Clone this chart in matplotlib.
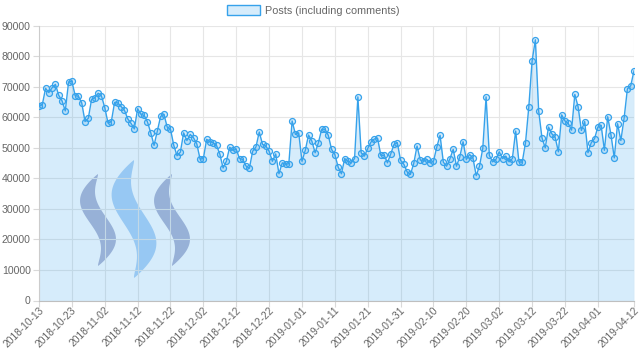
import matplotlib
matplotlib.use("Agg")
import matplotlib.pyplot as plt
import matplotlib.transforms as mtransforms
from matplotlib.patches import Patch, Polygon
import numpy as np

# daily post counts, 2018-10-13 .. 2019-04-12
posts = [63700, 64100, 69500, 68100, 69700, 70800, 67200, 65400, 62100, 71600,
         71800, 67100, 66900, 64700, 58600, 59700, 65900, 66400, 67900, 67000,
         63200, 58100, 58600, 64900, 64700, 63500, 62300, 59500, 58000, 56200,
         62800, 61000, 60600, 58500, 54900, 50800, 55500, 60300, 61000, 56800,
         56100, 50800, 47400, 48600, 54900, 52400, 54400, 53300, 51300, 46300,
         46500, 52800, 52000, 51700, 50800, 48000, 43400, 45600, 50200, 49200,
         49500, 46500, 46200, 44000, 43300, 48900, 50300, 55200, 51100, 50600,
         48900, 45600, 48000, 41500, 45100, 44600, 44800, 58800, 54400, 54900,
         45600, 49200, 54200, 52200, 48400, 51700, 56100, 56100, 54100, 49500,
         47800, 43700, 41500, 46500, 45600, 45100, 46500, 66700, 48400, 47300,
         49800, 51900, 52900, 53100, 47500, 47600, 45100, 48000, 51100, 51700,
         45900, 44600, 42100, 41300, 44900, 50600, 46000, 45600, 46200, 45100,
         45600, 50200, 54100, 45300, 44000, 46400, 49500, 44000, 47000, 52000,
         46200, 47800, 46700, 40900, 44000, 49800, 66700, 47500, 45400, 46200,
         48700, 46500, 47300, 45400, 46500, 55500, 45400, 45300, 51700, 63400,
         78500, 85400, 62100, 53300, 50000, 56800, 54600, 53500, 48700, 60800,
         58800, 58000, 55800, 67500, 63400, 55700, 58600, 48400, 51700, 53000,
         56800, 57400, 49200, 60200, 54200, 46700, 57900, 52400, 59800, 69400,
         70300, 75200]

tick_pos = [0, 10, 20, 30, 40, 50, 60, 70, 80, 90, 100, 110, 120, 130, 140,
            150, 160, 170, 181]
tick_labels = ["2018-10-13", "2018-10-23", "2018-11-02", "2018-11-12",
               "2018-11-22", "2018-12-02", "2018-12-12", "2018-12-22",
               "2019-01-01", "2019-01-11", "2019-01-21", "2019-01-31",
               "2019-02-10", "2019-02-20", "2019-03-02", "2019-03-12",
               "2019-03-22", "2019-04-01", "2019-04-12"]

plt.rcParams["font.family"] = ["Liberation Sans", "DejaVu Sans"]

line_color = "#36a2eb"
fill_color = (54/255, 162/255, 235/255, 0.2)
W, H = 640, 361

fig = plt.figure(figsize=(6.4, 3.61), dpi=100)
ax = fig.add_axes([39/W, 1 - 300.5/H, (634 - 39)/W, (300.5 - 25.7)/H])


# steem-like watermark, drawn in figure pixels
def swoosh(xc, amp, ytop, ybot, wmax, color):
    t = np.linspace(0, 1, 80)
    cx = xc - amp * np.sin(2 * np.pi * t)
    cy = ytop + t * (ybot - ytop)
    w = wmax / 2 * np.sin(np.pi * t) ** 0.8
    xs = np.concatenate([cx - w, (cx + w)[::-1]])
    ys = np.concatenate([cy, cy[::-1]])
    pts = np.column_stack([xs / W, 1 - ys / H])
    ax.add_patch(Polygon(pts, closed=True, transform=fig.transFigure,
                         facecolor=color, edgecolor="none", zorder=0.5))


swoosh(98, 10, 174, 266, 20, "#b0b5d3")
swoosh(134, 12, 160, 278, 26, "#b0d2f5")
swoosh(172, 10, 174, 266, 20, "#b0b5d3")

x = np.arange(len(posts))
ax.fill_between(x, posts, 0, color=fill_color, linewidth=0, zorder=1)
ax.plot(x, posts, color=line_color, linewidth=1, marker="o", markersize=4.3,
        markerfacecolor=(54/255, 162/255, 235/255, 0.2),
        markeredgecolor=line_color, markeredgewidth=0.9, zorder=3,
        label="Posts (including comments)")

ax.set_xlim(0, len(posts) - 1)
ax.set_ylim(0, 90000)
ax.set_yticks(np.arange(0, 90001, 10000))
ax.set_xticks(tick_pos)
ax.set_xticklabels(tick_labels, rotation=45, ha="right", va="center",
                   rotation_mode="anchor")
ax.tick_params(axis="both", colors="#d9d9d9", labelcolor="#666666",
               labelsize=7.6, length=4, width=0.8, pad=2)
ax.tick_params(axis="x", labelsize=7.4)
# nudge the rotated date labels a little to the right, as in the original
shift = mtransforms.ScaledTranslation(3/100, 0, fig.dpi_scale_trans)
for lbl in ax.get_xticklabels():
    lbl.set_transform(lbl.get_transform() + shift)
ax.grid(True, color="#e6e6e6", linewidth=0.8)
ax.set_axisbelow(True)
for side in ["top", "right"]:
    ax.spines[side].set_visible(False)
ax.spines["left"].set_color("#cccccc")
ax.spines["bottom"].set_color("#bfbfbf")

fig.legend(handles=[Patch(facecolor=fill_color, edgecolor=line_color,
                          linewidth=1)],
           labels=["Posts (including comments)"],
           loc="upper center", bbox_to_anchor=(0.49, 1.012), frameon=False,
           fontsize=7.8, labelcolor="#666666", handlelength=3.0,
           handleheight=0.95, handletextpad=0.5)

fig.savefig("out.png", dpi=100)
